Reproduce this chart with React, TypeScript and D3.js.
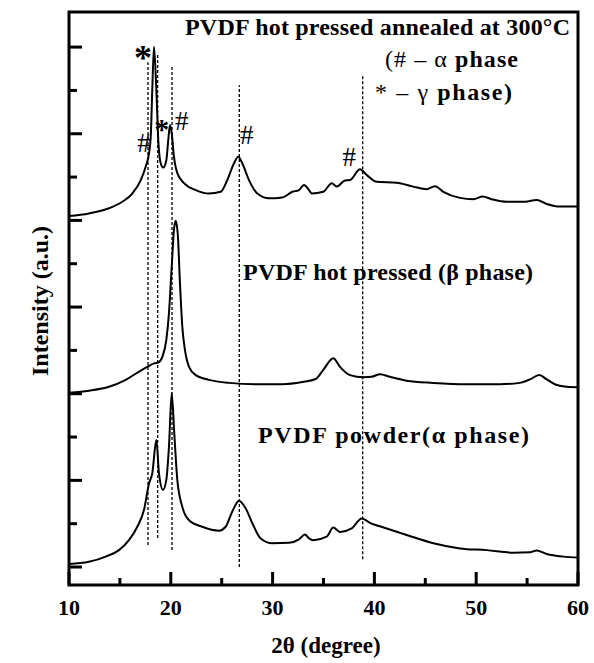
import React from "react";
import * as d3 from "d3";

// 2θ (degree) vs intensity (a.u.), curves offset vertically
const annealed: [number, number][] = [
  [10.0, 8.1], [11.96, 8.16], [13.93, 8.28], [15.24, 8.43], [16.22, 8.62], [17.05, 8.93],
  [17.53, 9.24], [17.86, 9.55], [18.03, 9.93], [18.18, 11.01], [18.35, 12.01], [18.58, 11.01],
  [18.77, 9.85], [19.01, 9.32], [19.26, 9.22], [19.56, 9.39], [19.75, 9.85], [19.92, 10.2],
  [20.09, 10.01], [20.31, 9.47], [20.64, 9.09], [21.3, 8.86], [22.45, 8.7], [23.75, 8.62],
  [24.9, 8.66], [25.55, 8.93], [26.21, 9.32], [26.63, 9.47], [27.02, 9.32], [27.68, 8.93],
  [28.5, 8.62], [29.65, 8.51], [30.95, 8.53], [31.94, 8.66], [32.59, 8.7], [33.08, 8.82],
  [33.58, 8.7], [33.84, 8.62], [34.98, 8.66], [35.81, 8.86], [36.3, 8.78], [37.11, 8.92],
  [37.6, 8.93], [38.59, 9.18], [39.24, 9.05], [40.23, 8.89], [42.19, 8.87], [43.82, 8.78],
  [45.14, 8.72], [45.95, 8.79], [46.77, 8.66], [48.41, 8.52], [49.72, 8.49], [50.64, 8.55],
  [51.52, 8.49], [53.0, 8.43], [54.63, 8.43], [55.94, 8.47], [56.93, 8.38], [58.23, 8.32],
  [60.0, 8.32],
];

const hotPressed: [number, number][] = [
  [10.0, 4.02], [11.96, 4.07], [13.93, 4.16], [15.57, 4.32], [16.88, 4.51], [17.69, 4.62],
  [18.35, 4.7], [18.77, 4.72], [19.17, 4.85], [19.56, 5.24], [19.82, 5.86], [20.09, 6.93],
  [20.31, 7.78], [20.48, 7.99], [20.68, 7.7], [20.9, 6.55], [21.13, 5.55], [21.39, 5.01],
  [21.79, 4.62], [22.45, 4.43], [23.75, 4.32], [25.72, 4.25], [28.34, 4.22], [30.95, 4.22],
  [32.92, 4.27], [34.23, 4.34], [34.98, 4.55], [35.96, 4.82], [36.62, 4.62], [37.6, 4.43],
  [38.91, 4.38], [39.73, 4.39], [40.55, 4.45], [41.53, 4.39], [43.17, 4.3], [45.79, 4.25],
  [49.07, 4.22], [52.34, 4.22], [54.3, 4.25], [55.28, 4.33], [56.2, 4.43], [56.93, 4.33],
  [57.91, 4.2], [58.89, 4.16], [60.0, 4.15],
];

const powder: [number, number][] = [
  [10.0, 0.07], [11.96, 0.12], [13.61, 0.24], [14.91, 0.39], [15.89, 0.62], [16.71, 0.93],
  [17.37, 1.32], [17.86, 1.93], [18.18, 2.16], [18.58, 2.93], [18.84, 2.16], [19.23, 1.78],
  [19.56, 2.01], [19.82, 2.78], [20.09, 4.01], [20.34, 3.09], [20.64, 2.01], [21.13, 1.39],
  [21.79, 1.08], [23.09, 0.93], [24.73, 0.84], [25.39, 0.93], [26.04, 1.28], [26.7, 1.53],
  [27.36, 1.35], [28.01, 1.01], [28.83, 0.66], [29.97, 0.55], [31.61, 0.56], [32.59, 0.64],
  [33.18, 0.75], [33.58, 0.66], [34.0, 0.62], [35.31, 0.7], [35.96, 0.91], [36.62, 0.81],
  [37.77, 0.89], [38.75, 1.12], [39.57, 1.02], [41.21, 0.89], [43.17, 0.74], [45.79, 0.55],
  [48.41, 0.43], [51.03, 0.39], [53.65, 0.33], [55.28, 0.34], [55.94, 0.38], [56.93, 0.3],
  [58.56, 0.24], [60.0, 0.22],
];

// reference lines: [2θ, bottom, top]
const refLines: [number, number, number][] = [
  [17.76, 0.51, 11.65],
  [18.71, 0.67, 11.82],
  [20.12, 0.39, 11.54],
  [26.73, 0.0, 11.12],
  [38.85, 0.18, 11.33],
];

const xTicks = [10, 20, 30, 40, 50, 60];
const xMinor = [15, 25, 35, 45, 55];
const yMajor = [0, 2, 4, 6, 8, 10, 12];
const yMinor = [1, 3, 5, 7, 9, 11];

// peak markers: [2θ, intensity]
const hashes: [number, number][] = [
  [17.36, 9.78],
  [21.07, 10.3],
  [27.45, 9.97],
  [37.53, 9.47],
];
// stars: [2θ, intensity, size]
const stars: [number, number, number][] = [
  [17.27, 11.86, 36],
  [19.1, 10.2, 30],
];

const serif = "'Liberation Serif', 'Times New Roman', serif";

export default function App() {
  const W = 594, H = 663;
  const L = 69, R = 578, T = 12, B = 585;
  const x = d3.scaleLinear().domain([10, 60]).range([L, R]);
  const y = d3.scaleLinear().domain([-0.415, 12.81]).range([B, T]);
  const line = d3
    .line<[number, number]>()
    .x((d) => x(d[0]))
    .y((d) => y(d[1]))
    .curve(d3.curveMonotoneX);

  return (
    <svg
      width={W}
      height={H}
      style={{ position: "absolute", left: 0, top: 0, background: "#fff" }}
      fontFamily={serif}
    >
      <rect x={0} y={0} width={W} height={H} fill="#fff" />
      {refLines.map(([v, b, t], i) => (
        <line
          key={"r" + i}
          x1={x(v)}
          x2={x(v)}
          y1={y(b)}
          y2={y(t)}
          stroke="#000"
          strokeWidth={1.3}
          strokeDasharray="3,2"
        />
      ))}
      {[annealed, hotPressed, powder].map((s, i) => (
        <path key={"c" + i} d={line(s) || ""} fill="none" stroke="#000" strokeWidth={2} strokeLinejoin="round" />
      ))}
      {/* frame */}
      <rect x={L} y={T} width={R - L} height={B - T} fill="none" stroke="#000" strokeWidth={3} />
      {xTicks.map((t) => (
        <g key={"xt" + t}>
          <line x1={x(t)} x2={x(t)} y1={B} y2={B - 13} stroke="#000" strokeWidth={3} />
          <text x={x(t)} y={615} textAnchor="middle" fontSize={22} fontWeight="bold">
            {t}
          </text>
        </g>
      ))}
      {xMinor.map((t) => (
        <line key={"xm" + t} x1={x(t)} x2={x(t)} y1={B} y2={B - 7} stroke="#000" strokeWidth={3} />
      ))}
      {yMajor.map((t) => (
        <line key={"ym" + t} x1={L} x2={L + 13} y1={y(t)} y2={y(t)} stroke="#000" strokeWidth={3} />
      ))}
      {yMinor.map((t) => (
        <line key={"yn" + t} x1={L} x2={L + 8} y1={y(t)} y2={y(t)} stroke="#000" strokeWidth={3} />
      ))}
      {/* axis titles */}
      <text x={326} y={653} textAnchor="middle" fontSize={23} fontWeight="bold">
        2θ (degree)
      </text>
      <text
        transform="translate(48,301) rotate(-90)"
        textAnchor="middle"
        fontSize={24}
        fontWeight="bold"
      >
        Intensity (a.u.)
      </text>
      {/* annotations */}
      <text x={185} y={35} fontSize={24} fontWeight="bold" textLength={385} lengthAdjust="spacing">
        PVDF hot pressed annealed at 300°C
      </text>
      <text x={385} y={67} fontSize={24} textLength={133} lengthAdjust="spacing">
        <tspan>(#  –  α </tspan>
        <tspan fontWeight="bold">phase</tspan>
      </text>
      <text x={375} y={100} fontSize={24} textLength={137} lengthAdjust="spacing">
        <tspan>*  –  γ  </tspan>
        <tspan fontWeight="bold">phase)</tspan>
      </text>
      <text x={243} y={280} fontSize={24} fontWeight="bold" textLength={290} lengthAdjust="spacing">
        PVDF hot pressed (β phase)
      </text>
      <text x={258} y={443} fontSize={24} fontWeight="bold" textLength={271} lengthAdjust="spacing">
        PVDF powder(α phase)
      </text>
      {hashes.map(([v, h], i) => (
        <text key={"m" + i} x={x(v)} y={y(h) + 9} textAnchor="middle" fontSize={27}>
          #
        </text>
      ))}
      {stars.map(([v, h, fs], i) => (
        <text key={"s" + i} x={x(v)} y={y(h) + fs * 0.47} textAnchor="middle" fontSize={fs} fontWeight="bold">
          *
        </text>
      ))}
    </svg>
  );
}
